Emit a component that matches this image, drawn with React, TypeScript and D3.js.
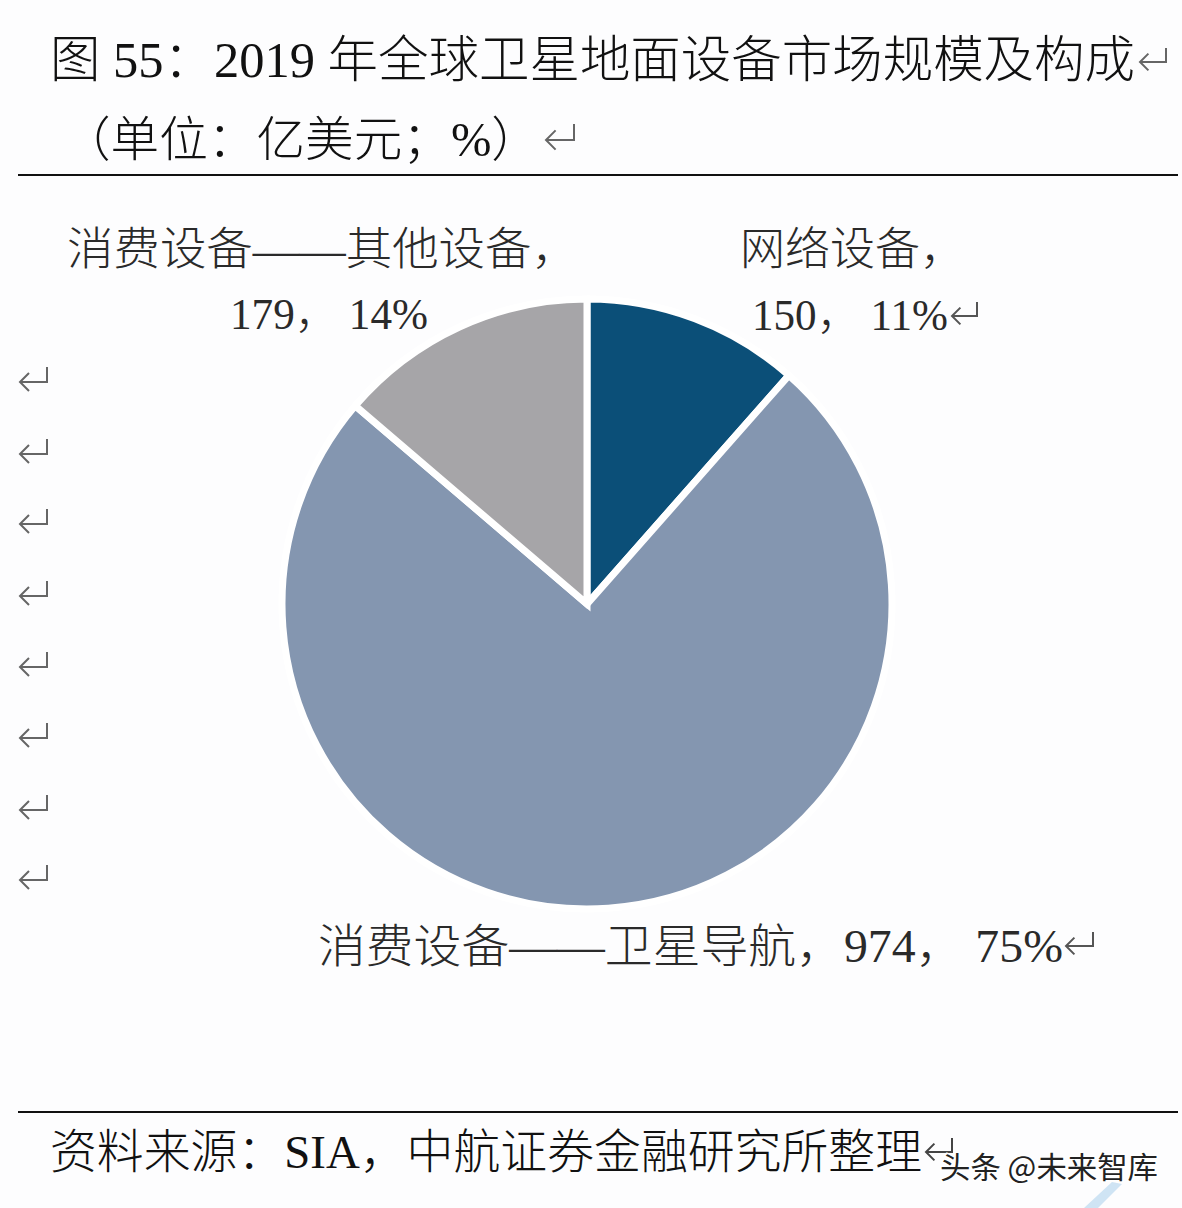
import React, { useEffect } from "react";
import * as d3 from "d3";

// 2019 global satellite ground equipment market (亿美元)
const categories = ["网络设备", "消费设备——卫星导航", "消费设备——其他设备"];
const values = [150, 974, 179];
const percents = ["11%", "75%", "14%"];
const colors = ["#0b4f78", "#8496b0", "#a6a5a8"];

const titleLines = ["图 55：2019 年全球卫星地面设备市场规模及构成", "（单位：亿美元；%）"];
const sourceText = "资料来源：SIA，中航证券金融研究所整理";
const watermark = "头条 @未来智库";
const leftMarks = [380, 452, 522, 594, 665, 736, 808, 878];

const W = 1182;
const H = 1208;
const cx = 587;
const cy = 604;
const R = 305;

const FONT = '"Liberation Serif", "Noto Sans CJK SC", serif';

// Word paragraph mark: x = left tip, y = arrow line, w/h = size
function ReturnMark({ x, y, w = 28, h = 16, color = "#555" }: { x: number; y: number; w?: number; h?: number; color?: string }) {
  const head = h * 0.6;
  return (
    <path
      d={`M${x + w},${y - h} V${y} H${x} M${x + head},${y - head} L${x},${y} L${x + head},${y + head}`}
      fill="none"
      stroke={color}
      strokeWidth={2}
    />
  );
}

export default function App() {
  useEffect(() => {
    document.body.style.margin = "0";
  }, []);

  const pie = d3
    .pie<number>()
    .sort(null)
    .startAngle(0)
    .endAngle(2 * Math.PI)
    .value((d) => d);
  const arcs = pie(values);
  const arc = d3.arc<d3.PieArcDatum<number>>().innerRadius(0).outerRadius(R);

  const label = (i: number, sep = "，") => `${values[i]}${sep} ${percents[i]}`;

  return (
    <svg width={W} height={H} style={{ display: "block", background: "#fdfdfe" }}>
      <rect width={W} height={H} fill="#fdfdfe" />
      {/* title */}
      <g fontFamily={FONT} fontWeight={300} fill="#111">
        <text x={50} y={77} fontSize={50} textLength={1085} lengthAdjust="spacingAndGlyphs">
          {titleLines[0]}
        </text>
        <text x={62} y={156} fontSize={48} textLength={478} lengthAdjust="spacingAndGlyphs">
          {titleLines[1]}
        </text>
      </g>
      <ReturnMark x={1140} y={62} w={26} h={14} color="#666" />
      <ReturnMark x={546} y={140} w={28} h={16} color="#666" />
      <line x1={18} x2={1178} y1={175} y2={175} stroke="#111" strokeWidth={2.2} />

      {/* pie */}
      <g transform={`translate(${cx},${cy})`}>
        {arcs.map((a, i) => (
          <path key={categories[i]} d={arc(a) || ""} fill={colors[i]} stroke="#ffffff" strokeWidth={7} strokeLinejoin="miter" />
        ))}
      </g>

      {/* labels */}
      <g fontFamily={FONT} fontWeight={300} fill="#2a2a2a">
        <text x={67} y={265} fontSize={45} textLength={511} lengthAdjust="spacingAndGlyphs">
          {categories[2]}，
        </text>
        <text x={230} y={329} fontSize={44} textLength={198} lengthAdjust="spacingAndGlyphs">
          {label(2)}
        </text>
        <text x={740} y={265} fontSize={45}>
          {categories[0]}，
        </text>
        <text x={752} y={330} fontSize={44} textLength={196} lengthAdjust="spacingAndGlyphs">
          {label(0)}
        </text>
        <text x={318} y={962} fontSize={46} textLength={745} lengthAdjust="spacingAndGlyphs">
          {`${categories[1]}，${label(1)}`}
        </text>
      </g>
      <ReturnMark x={952} y={316} w={25} h={14} />
      <ReturnMark x={1066} y={946} w={27} h={14} />

      {/* left paragraph marks */}
      {leftMarks.map((y) => (
        <ReturnMark key={y} x={20} y={y + 2} w={27} h={15} color="#666" />
      ))}

      {/* source */}
      <line x1={18} x2={1178} y1={1112} y2={1112} stroke="#111" strokeWidth={2.2} />
      <text x={50} y={1168} fontFamily={FONT} fontWeight={300} fontSize={47} fill="#111" textLength={872} lengthAdjust="spacingAndGlyphs">
        {sourceText}
      </text>
      <ReturnMark x={926} y={1152} w={26} h={14} color="#444" />

      {/* watermark */}
      <path d="M1112,1182 L1122,1184 L1098,1208 L1084,1208 Z" fill="#cfe4f4" />
      <text
        x={940}
        y={1178}
        fontFamily='"Noto Sans CJK SC", sans-serif'
        fontSize={30}
        fill="#222"
        stroke="#ffffff"
        strokeWidth={3}
        paintOrder="stroke"
        textLength={218}
        lengthAdjust="spacingAndGlyphs"
      >
        {watermark}
      </text>
    </svg>
  );
}
